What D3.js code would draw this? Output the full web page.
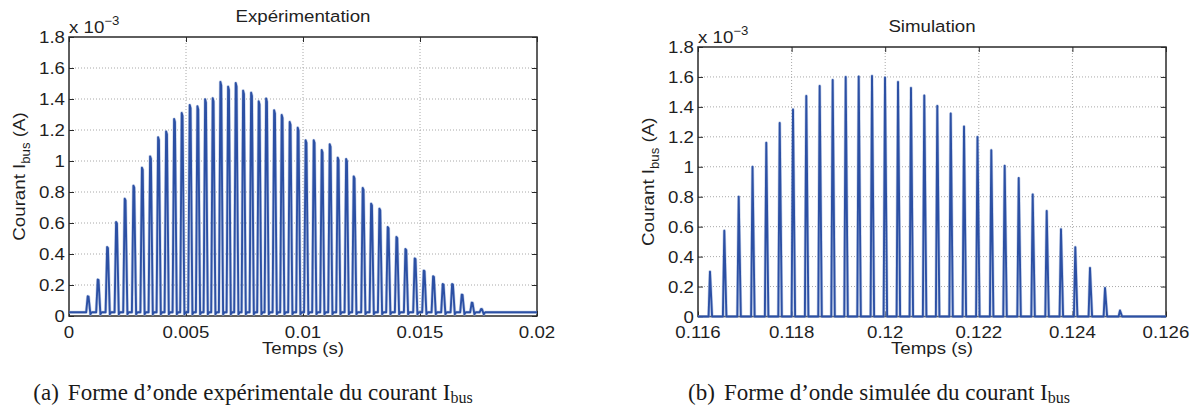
<!DOCTYPE html>
<html><head><meta charset="utf-8">
<script src="https://cdn.jsdelivr.net/npm/d3@7"></script>
<style>body{margin:0;background:#fff} svg{display:block}</style>
</head><body>
<svg id="chart" width="1199" height="408"></svg>
<script>
// ---------- data (current in units of 1e-3 A, time in s) ----------
const yTicks = [0, 0.2, 0.4, 0.6, 0.8, 1, 1.2, 1.4, 1.6, 1.8];
const yTickLabels = ["0", "0.2", "0.4", "0.6", "0.8", "1", "1.2", "1.4", "1.6", "1.8"];

const expXTicks = [0, 0.005, 0.01, 0.015, 0.02];
const expXTickLabels = ["0", "0.005", "0.01", "0.015", "0.02"];
const simXTicks = [0.116, 0.118, 0.12, 0.122, 0.124, 0.126];
const simXTickLabels = ["0.116", "0.118", "0.12", "0.122", "0.124", "0.126"];

const expPeakTimes = [0.000825, 0.001252, 0.001654, 0.002038, 0.002406, 0.002778, 0.003141, 0.003491,
  0.003833, 0.004175, 0.004517, 0.004842, 0.005184, 0.005513, 0.005842, 0.006167, 0.006496, 0.006825,
  0.007150, 0.007466, 0.007808, 0.008132, 0.008449, 0.008791, 0.009115, 0.009457, 0.009799, 0.010137,
  0.010483, 0.010825, 0.011167, 0.011509, 0.011868, 0.012192, 0.012577, 0.012936, 0.013291, 0.013645,
  0.014017, 0.014402, 0.014799, 0.015184, 0.015585, 0.015996, 0.016397, 0.016808, 0.017235, 0.017637];
const expPeakValues = [0.127, 0.235, 0.445, 0.606, 0.757, 0.841, 0.957, 1.030,
  1.153, 1.19, 1.271, 1.31, 1.361, 1.353, 1.398, 1.405, 1.51, 1.48,
  1.503, 1.454, 1.441, 1.385, 1.403, 1.327, 1.297, 1.252, 1.215, 1.134,
  1.134, 1.071, 1.108, 1.022, 1.013, 0.901, 0.826, 0.725, 0.693, 0.574,
  0.510, 0.432, 0.372, 0.293, 0.256, 0.206, 0.206, 0.138, 0.086, 0.045];
const expBaseline = 0.024;

const simPeakTimes = [0.116256, 0.116562, 0.116870, 0.117165, 0.117459, 0.117746, 0.118030, 0.118314,
  0.118600, 0.118878, 0.119156, 0.119434, 0.119718, 0.119996, 0.120274, 0.120551, 0.120835, 0.121113,
  0.121400, 0.121684, 0.121972, 0.122267, 0.122553, 0.122853, 0.123152, 0.123451, 0.123756, 0.124062,
  0.124376, 0.124697, 0.125017];
const simPeakValues = [0.30, 0.573, 0.80, 1.00, 1.16, 1.293, 1.383, 1.473,
  1.54, 1.58, 1.60, 1.603, 1.607, 1.596, 1.567, 1.527, 1.476, 1.407,
  1.356, 1.269, 1.20, 1.111, 1.007, 0.925, 0.816, 0.705, 0.583, 0.463,
  0.325, 0.191, 0.04];
const simBaseline = 0;

// spike outline: [time offset, peak weight, baseline weight]
const expSpike = [[-0.00009, 0, 1], [-0.000025, 1, 0], [0.00001, 0.985, 0], [0.00009, 0, 0.45], [0.00015, 0, 1]];
const simSpike = [[-0.00003, 0, 1], [0, 1, 0], [0.000045, 0, 1]];

// ---------- drawing ----------
const svg = d3.select("#chart");
const FONT = "'Liberation Sans', Arial, Helvetica, sans-serif";
const TXT = "#1f1f1f";
const LINE = "#2c50a4";

function label(g, x, y, str, anchor, size, sx) {
  return g.append("text")
    .attr("transform", `translate(${x},${y}) scale(${sx || 1},1)`)
    .attr("text-anchor", anchor || "middle")
    .attr("font-family", FONT).attr("font-size", size || 17)
    .attr("fill", TXT).text(str);
}

function buildSignal(times, peaks, base, tmpl, x0, x1) {
  const pts = [[x0, base]];
  times.forEach((t, i) => {
    tmpl.forEach(([dt, wp, wb]) => pts.push([t + dt, wp * peaks[i] + wb * base]));
  });
  pts.push([x1, base]);
  return pts;
}

function panel(cfg) {
  const g = svg.append("g");
  const x = d3.scaleLinear().domain(cfg.xDomain).range([cfg.left, cfg.right]);
  const y = d3.scaleLinear().domain([0, 1.8]).range([cfg.bottom, cfg.top]);
  const id = "clip" + cfg.key;
  svg.append("clipPath").attr("id", id).append("rect")
    .attr("x", cfg.left).attr("y", cfg.top)
    .attr("width", cfg.right - cfg.left).attr("height", cfg.bottom - cfg.top + 2);

  // grid
  g.append("g").selectAll("line").data(cfg.xTicks.slice(1, -1)).join("line")
    .attr("x1", d => x(d)).attr("x2", d => x(d)).attr("y1", cfg.top).attr("y2", cfg.bottom)
    .attr("stroke", "#a8a8a8").attr("stroke-width", 1).attr("stroke-dasharray", "1,2");
  g.append("g").selectAll("line").data(yTicks.slice(1, -1)).join("line")
    .attr("y1", d => y(d)).attr("y2", d => y(d)).attr("x1", cfg.left).attr("x2", cfg.right)
    .attr("stroke", "#a8a8a8").attr("stroke-width", 1).attr("stroke-dasharray", "1,2");

  // box
  g.append("rect").attr("x", cfg.left).attr("y", cfg.top)
    .attr("width", cfg.right - cfg.left).attr("height", cfg.bottom - cfg.top)
    .attr("fill", "none").attr("stroke", "#2a2a2a").attr("stroke-width", 1.5);

  // ticks (inside, all four sides) via d3 axes
  const tl = 5;
  const ax = (gen, tr) => g.append("g").attr("transform", tr).call(gen)
    .call(s => s.select(".domain").remove())
    .call(s => s.selectAll("text").remove())
    .call(s => s.selectAll("line").attr("stroke", "#2a2a2a"));
  ax(d3.axisBottom(x).tickValues(cfg.xTicks).tickSize(-tl), `translate(0,${cfg.bottom})`);
  ax(d3.axisTop(x).tickValues(cfg.xTicks).tickSize(-tl), `translate(0,${cfg.top})`);
  ax(d3.axisLeft(y).tickValues(yTicks).tickSize(-tl), `translate(${cfg.left},0)`);
  ax(d3.axisRight(y).tickValues(yTicks).tickSize(-tl), `translate(${cfg.right},0)`);

  // tick labels
  cfg.xTicks.forEach((t, i) => label(g, x(t), 338, cfg.xTickLabels[i], "middle", 17, 1.1));
  yTicks.forEach((t, i) => label(g, cfg.left - 4, y(t) + 6, yTickLabels[i], "end", 17, 1.1));

  // exponent
  const ex = label(g, cfg.left, cfg.top - 4, "x 10", "start", 17, 1.1);
  ex.append("tspan").attr("dy", -8).attr("font-size", 12).text("\u22123");

  // title
  label(g, (cfg.left + cfg.right) / 2, cfg.titleY, cfg.title, "middle", 17, 1.1);
  // x label
  label(g, (cfg.left + cfg.right) / 2, 354, "Temps (s)", "middle", 17, 1.1);
  // y label
  const yl = g.append("text")
    .attr("transform", `translate(${cfg.left - 44},${(cfg.top + cfg.bottom) / 2}) rotate(-90) scale(1.1,1)`)
    .attr("text-anchor", "middle").attr("font-family", FONT).attr("font-size", 17).attr("fill", TXT);
  yl.append("tspan").text("Courant I");
  yl.append("tspan").attr("font-size", 12).attr("dy", 5).text("bus");
  yl.append("tspan").attr("dy", -5).text(" (A)");

  // signal
  const pts = buildSignal(cfg.times, cfg.peaks, cfg.base, cfg.spike, cfg.xDomain[0], cfg.xDomain[1]);
  const line = d3.line().x(d => x(d[0])).y(d => y(d[1]));
  g.append("path").datum(pts).attr("d", line).attr("clip-path", `url(#${id})`)
    .attr("fill", "none").attr("stroke", "#9fb2da").attr("stroke-width", 3.2).attr("stroke-linejoin", "round").attr("opacity", 0.6);
  g.append("path").datum(pts).attr("d", line).attr("clip-path", `url(#${id})`)
    .attr("fill", "none").attr("stroke", LINE).attr("stroke-width", 1.9).attr("stroke-linejoin", "round");

  // caption
  const cap = g.append("text").attr("x", cfg.capX).attr("y", 400).attr("text-anchor", "middle")
    .attr("font-family", "'Liberation Serif', 'Times New Roman', serif").attr("font-size", 23).attr("fill", "#1a1a1a");
  cap.append("tspan").text(cfg.capLetter);
  cap.append("tspan").attr("dx", 9).text(cfg.caption);
  cap.append("tspan").attr("font-size", 16).attr("dy", 3).text("bus");
}

panel({key: "a", left: 69, right: 537, top: 37, bottom: 316, xDomain: [0, 0.02],
  xTicks: expXTicks, xTickLabels: expXTickLabels, title: "Expérimentation", titleY: 22,
  times: expPeakTimes, peaks: expPeakValues, base: expBaseline, spike: expSpike,
  capX: 253, capLetter: "(a)", caption: "Forme d\u2019onde expérimentale du courant I"});
panel({key: "b", left: 698, right: 1166, top: 47, bottom: 316.5, xDomain: [0.116, 0.126],
  xTicks: simXTicks, xTickLabels: simXTickLabels, title: "Simulation", titleY: 32,
  times: simPeakTimes, peaks: simPeakValues, base: simBaseline, spike: simSpike,
  capX: 879, capLetter: "(b)", caption: "Forme d\u2019onde simulée du courant I"});
</script>
</body></html>
